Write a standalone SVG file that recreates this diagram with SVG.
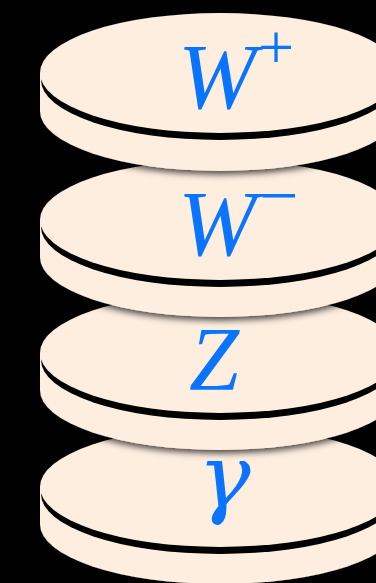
<svg xmlns="http://www.w3.org/2000/svg" width="376" height="583" viewBox="0 0 376 583">
<defs>
<filter id="ds" x="-10%" y="-15%" width="120%" height="140%">
<feDropShadow dx="0" dy="3" stdDeviation="3.5" flood-color="#000" flood-opacity="0.75"/>
</filter>
<filter id="soft" x="-5%" y="-10%" width="110%" height="120%">
<feGaussianBlur stdDeviation="0.7"/>
</filter>
<style>
.body{fill:#fdeee0}
.face{fill:#fdeee0}
.rim{fill:#000}
.lbl{font-family:"Liberation Serif","Times New Roman",serif;font-style:italic;fill:#0a74ff}
.sup{font-style:normal}
.greek{font-family:"DejaVu Serif",serif}
</style>
</defs>
<rect width="376" height="583" fill="#000"/>

<g id="gamma">
<g filter="url(#ds)">
<path class="body" d="M40,487 V524 A180,60 0 0 0 400,524 V487 Z"/>
<ellipse class="rim" cx="220" cy="494" rx="179" ry="60" filter="url(#soft)"/>
<ellipse class="face" cx="220" cy="487" rx="180" ry="60"/>
</g>
<text class="lbl greek" x="198" y="507" font-size="88">γ</text>
</g>

<g id="Z">
<g filter="url(#ds)">
<path class="body" d="M40,353 V390 A180,60 0 0 0 400,390 V353 Z"/>
<ellipse class="rim" cx="220" cy="360" rx="179" ry="60" filter="url(#soft)"/>
<ellipse class="face" cx="220" cy="353" rx="180" ry="60"/>
</g>
<text class="lbl" x="189" y="390" font-size="90">Z</text>
</g>

<g id="Wminus">
<g filter="url(#ds)">
<path class="body" d="M40,220 V257 A180,60 0 0 0 400,257 V220 Z"/>
<ellipse class="rim" cx="220" cy="227" rx="179" ry="60" filter="url(#soft)"/>
<ellipse class="face" cx="220" cy="220" rx="180" ry="60"/>
</g>
<text class="lbl" x="178" y="255" font-size="94">W<tspan class="sup" x="259" font-size="70" dy="-36">−</tspan></text>
</g>

<g id="Wplus">
<g filter="url(#ds)">
<path class="body" d="M40,73 V111 A180,60 0 0 0 400,111 V73 Z"/>
<ellipse class="rim" cx="220" cy="80" rx="179" ry="60" filter="url(#soft)"/>
<ellipse class="face" cx="220" cy="73" rx="180" ry="60"/>
</g>
<text class="lbl" x="178" y="108" font-size="94">W<tspan class="sup" x="258" font-size="64" dy="-39">+</tspan></text>
</g>
</svg>
